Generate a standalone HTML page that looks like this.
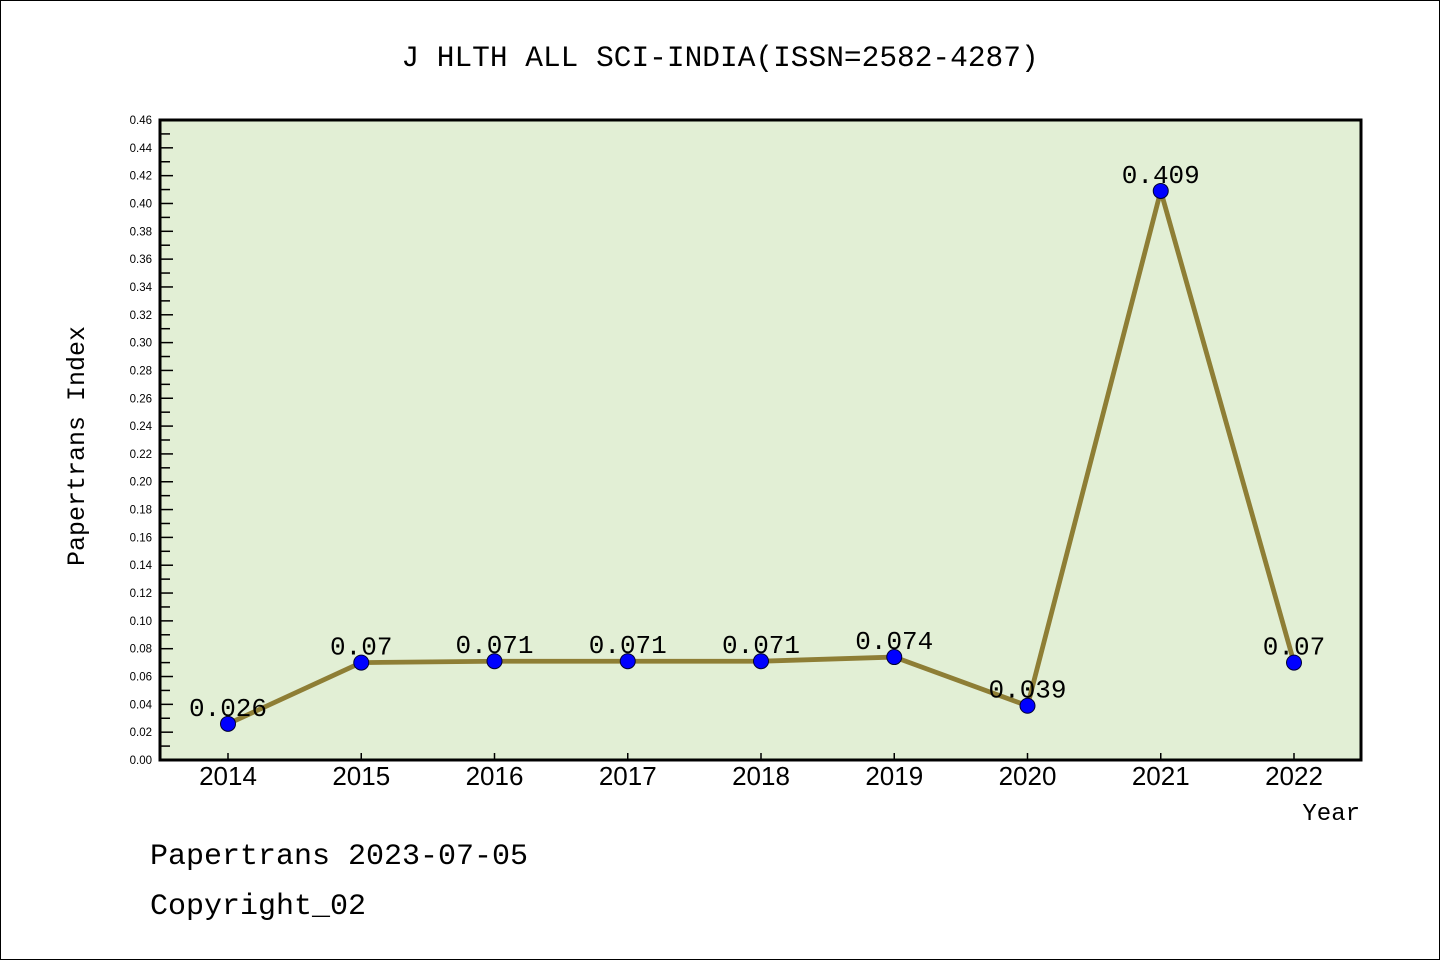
<!DOCTYPE html>
<html><head><meta charset="utf-8"><style>
html,body{margin:0;padding:0;background:#fff}
#wrap{position:relative;width:1440px;height:960px;overflow:hidden}
svg{display:block}
</style></head><body>
<div id="wrap">
<svg id="chart" width="1440" height="960" xmlns="http://www.w3.org/2000/svg">
<rect x="0.5" y="0.5" width="1439" height="959" fill="#fff" stroke="#000" stroke-width="1"/>
<text x="720" y="66" text-anchor="middle" font-family="Liberation Mono, monospace" font-size="29.5" fill="#000">J HLTH ALL SCI-INDIA(ISSN=2582-4287)</text>
<rect x="160" y="120" width="1201" height="640" fill="#e2efd5"/>
<g id="yticks"></g>
<g id="xticks"></g>
<g id="series"></g>
<rect x="160" y="120" width="1201" height="640" fill="none" stroke="#000" stroke-width="3"/>
<text transform="translate(84,446) rotate(-90)" text-anchor="middle" font-family="Liberation Mono, monospace" font-size="25" fill="#000">Papertrans Index</text>
<text x="1360" y="820" text-anchor="end" font-family="Liberation Mono, monospace" font-size="24" fill="#000">Year</text>
<text x="150" y="864" font-family="Liberation Mono, monospace" font-size="30" fill="#000">Papertrans 2023-07-05</text>
<text x="150" y="914" font-family="Liberation Mono, monospace" font-size="30" fill="#000">Copyright_02</text>
</svg>
</div>
<script>
const years = ["2014","2015","2016","2017","2018","2019","2020","2021","2022"];
const values = [0.026,0.07,0.071,0.071,0.071,0.074,0.039,0.409,0.07];
const valueLabels = ["0.026","0.07","0.071","0.071","0.071","0.074","0.039","0.409","0.07"];
const yMax = 0.46;
const yTickStep = 0.02;

const NS = "http://www.w3.org/2000/svg";
const X0 = 228, X1 = 1294, Y0 = 760, Y1 = 120;
function xScale(i){ return X0 + (X1 - X0) * i / (years.length - 1); }
function yScale(v){ return Y0 - (Y0 - Y1) * v / yMax; }
function mk(tag, attrs, parent){ const e = document.createElementNS(NS, tag); for (const k in attrs) e.setAttribute(k, attrs[k]); parent.appendChild(e); return e; }

const yg = document.getElementById('yticks');
const nT = Math.round(yMax / yTickStep);
for (let i = 0; i <= nT; i++) {
  const v = i * yTickStep, y = yScale(v);
  const t = mk('line', {x1:160, x2:173, y1:y, y2:y, stroke:'#000', 'stroke-width':1.5}, yg);
  
  
  const lb = mk('text', {x:152, y:y+4, 'text-anchor':'end', 'font-family':'Liberation Sans, sans-serif', 'font-size':11.5, fill:'#000'}, yg);
  lb.textContent = v.toFixed(2);
  
  
  if (i < nT) {
    const ym = yScale(v + yTickStep / 2);
    const m = mk('line', {x1:160, x2:170, y1:ym, y2:ym, stroke:'#000', 'stroke-width':1.5}, yg);
    
    
  }
}
const xg = document.getElementById('xticks');
years.forEach((yr, i) => {
  const x = xScale(i);
  const t = mk('line', {x1:x, x2:x, y1:760, y2:753, stroke:'#000', 'stroke-width':1.5}, xg);
  
  
  const lb = mk('text', {x:x, y:785, 'text-anchor':'middle', 'font-family':'Liberation Sans, sans-serif', 'font-size':26, fill:'#000'}, xg);
  lb.textContent = yr;
  
  
});
const sg = document.getElementById('series');
const pts = values.map((v, i) => xScale(i) + ',' + yScale(v)).join(' ');
const pl = mk('polyline', {points:pts, fill:'none', stroke:'#8e7e35', 'stroke-width':4.8, 'stroke-linejoin':'round'}, sg);


values.forEach((v, i) => {
  const c = mk('circle', {cx:xScale(i), cy:yScale(v), r:7.5, fill:'#0000ff', stroke:'#000033', 'stroke-width':1}, sg);
  
  
});
values.forEach((v, i) => {
  const t = mk('text', {x:xScale(i), y:yScale(v) - 8, 'text-anchor':'middle', 'font-family':'Liberation Mono, monospace', 'font-size':26, fill:'#000'}, sg);
  t.textContent = valueLabels[i];
  
  
});
</script>
</body></html>
